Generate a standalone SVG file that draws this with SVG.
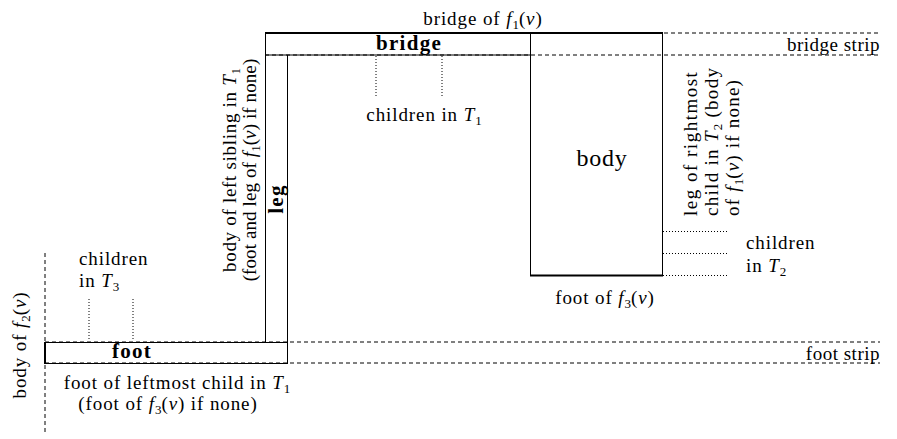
<svg xmlns="http://www.w3.org/2000/svg" width="897" height="439" viewBox="0 0 897 439">
<style>
.t{font-family:"Liberation Serif","Times New Roman",serif;font-size:19px;letter-spacing:0.9px;fill:#000}
.b{font-family:"Liberation Serif","Times New Roman",serif;font-size:21px;font-weight:bold;letter-spacing:1.3px;fill:#000}
.big{font-family:"Liberation Serif","Times New Roman",serif;font-size:24px;letter-spacing:0.8px;fill:#000}
.i{font-style:italic}
.s{font-size:13px;letter-spacing:0}
.ln{stroke:#000;stroke-width:1;fill:none}
.th{stroke:#000;stroke-width:2;fill:none}
.da{stroke:#000;stroke-width:1;stroke-dasharray:4 3;fill:none}
.do{stroke:#000;stroke-width:1;stroke-dasharray:1 2;fill:none}
</style>
<g id="connectors">
<line class="da" x1="265" y1="33" x2="880" y2="33"/>
<line class="da" x1="265" y1="55" x2="880" y2="55"/>
<line class="da" x1="45" y1="342" x2="880" y2="342"/>
<line class="da" x1="45" y1="363" x2="880" y2="363"/>
<line class="da" x1="45" y1="253" x2="45" y2="434"/>
<line class="do" x1="376" y1="56" x2="376" y2="98"/>
<line class="do" x1="442" y1="56" x2="442" y2="98"/>
<line class="do" x1="89" y1="299" x2="89" y2="341"/>
<line class="do" x1="133" y1="299" x2="133" y2="341"/>
<line class="do" x1="663" y1="231.5" x2="727" y2="231.5"/>
<line class="do" x1="663" y1="253.5" x2="727" y2="253.5"/>
<line class="do" x1="663" y1="275.5" x2="727" y2="275.5"/>
</g>
<g id="bridge">
<rect class="ln" x="265.5" y="33.5" width="265" height="21.5"/>
<line class="th" x1="265" y1="33" x2="663" y2="33"/>
<text class="b" x="409" y="50" text-anchor="middle">bridge</text>
</g>
<g id="body">
<rect class="ln" x="530.5" y="33.5" width="132" height="242"/>
<line class="th" x1="530" y1="275.5" x2="663" y2="275.5"/>
<text class="big" x="602" y="166" text-anchor="middle">body</text>
</g>
<g id="leg">
<line class="ln" x1="265.5" y1="33" x2="265.5" y2="342"/>
<line class="ln" x1="287.5" y1="55" x2="287.5" y2="363.5"/>
<text class="b" transform="translate(283,199) rotate(-90)" text-anchor="middle">leg</text>
</g>
<g id="foot">
<rect class="ln" x="45.5" y="342.5" width="242" height="21"/>
<line class="th" x1="45" y1="342" x2="45" y2="364"/>
<text class="b" x="132" y="358" text-anchor="middle">foot</text>
</g>
<g id="labels">
<text class="t" x="483" y="25" text-anchor="middle">bridge of <tspan class="i">f</tspan><tspan class="s" dy="4">1</tspan><tspan dy="-4">(</tspan><tspan class="i">v</tspan>)</text>
<text class="t" x="880" y="51" text-anchor="end" style="letter-spacing:0.5px">bridge strip</text>
<text class="t" x="880" y="360" text-anchor="end" style="letter-spacing:0.5px">foot strip</text>
<text class="t" x="424" y="121" text-anchor="middle">children in <tspan class="i">T</tspan><tspan class="s" dy="4">1</tspan></text>
<text class="t" x="746" y="249">children</text>
<text class="t" x="746" y="272">in <tspan class="i">T</tspan><tspan class="s" dy="4">2</tspan></text>
<text class="t" x="79" y="265">children</text>
<text class="t" x="79" y="287">in <tspan class="i">T</tspan><tspan class="s" dy="4">3</tspan></text>
<text class="t" x="605" y="304" text-anchor="middle">foot of <tspan class="i">f</tspan><tspan class="s" dy="4">3</tspan><tspan dy="-4">(</tspan><tspan class="i">v</tspan>)</text>
<text class="t" x="177" y="389" text-anchor="middle">foot of leftmost child in <tspan class="i">T</tspan><tspan class="s" dy="4">1</tspan></text>
<text class="t" x="168" y="410" text-anchor="middle">(foot of <tspan class="i">f</tspan><tspan class="s" dy="4">3</tspan><tspan dy="-4">(</tspan><tspan class="i">v</tspan>) if none)</text>
<text class="t" transform="translate(26,345) rotate(-90)" text-anchor="middle">body of <tspan class="i">f</tspan><tspan class="s" dy="4">2</tspan><tspan dy="-4">(</tspan><tspan class="i">v</tspan>)</text>
<text class="t" transform="translate(236,170) rotate(-90)" text-anchor="middle" style="letter-spacing:0.7px">body of left sibling in <tspan class="i">T</tspan><tspan class="s" dy="4">1</tspan></text>
<text class="t" transform="translate(256,170) rotate(-90)" text-anchor="middle" style="letter-spacing:0.1px">(foot and leg of <tspan class="i">f</tspan><tspan class="s" dy="4">1</tspan><tspan dy="-4">(</tspan><tspan class="i">v</tspan>) if none)</text>
<text class="t" transform="translate(697,216) rotate(-90)" style="letter-spacing:1.5px">leg of rightmost</text>
<text class="t" transform="translate(718,216) rotate(-90)" style="letter-spacing:1.3px">child in <tspan class="i">T</tspan><tspan class="s" dy="4">2</tspan><tspan dy="-4"> (body</tspan></text>
<text class="t" transform="translate(739,216) rotate(-90)" style="letter-spacing:1.2px">of <tspan class="i">f</tspan><tspan class="s" dy="4">1</tspan><tspan dy="-4">(</tspan><tspan class="i">v</tspan>) if none)</text>
</g>
</svg>
